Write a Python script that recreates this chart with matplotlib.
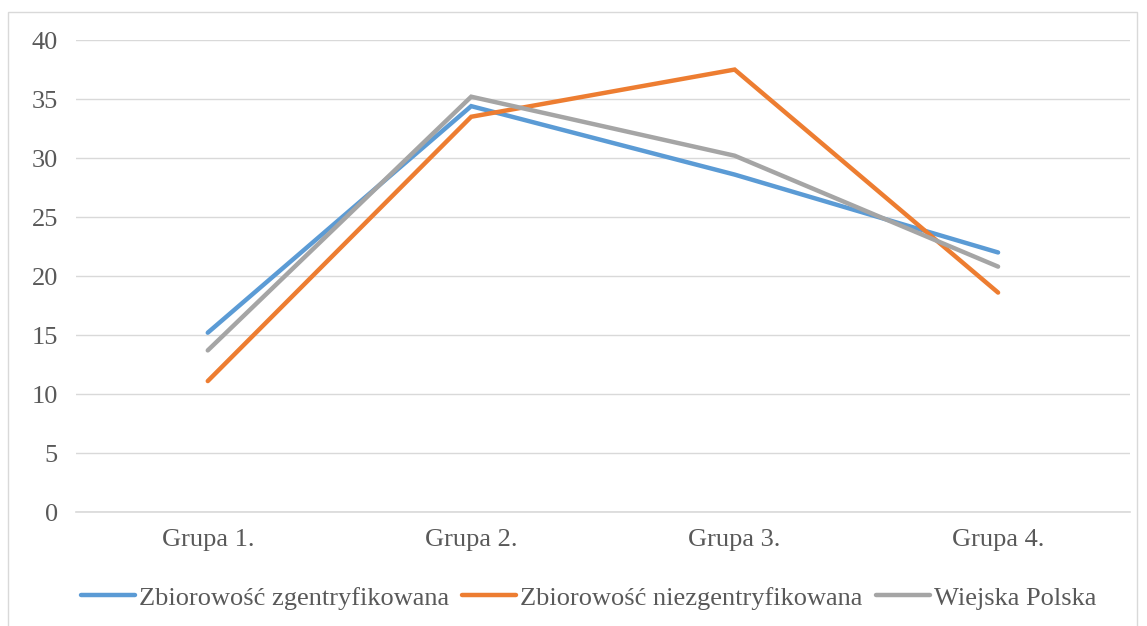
import matplotlib.pyplot as plt
from matplotlib.patches import Rectangle

categories = ["Grupa 1.", "Grupa 2.", "Grupa 3.", "Grupa 4."]
zgentryfikowana = [15.2, 34.4, 28.6, 22.0]
niezgentryfikowana = [11.1, 33.5, 37.5, 18.6]
wiejska_polska = [13.7, 35.2, 30.2, 20.8]

series_labels = ["Zbiorowość zgentryfikowana", "Zbiorowość niezgentryfikowana", "Wiejska Polska"]
colors = ["#5B9BD5", "#ED7D31", "#A5A5A5"]
text_color = "#595959"

plt.rcParams["font.family"] = ["Liberation Serif", "DejaVu Serif"]

fig = plt.figure(figsize=(11.47, 6.26), dpi=100)
ax = fig.add_axes([0.0663, 0.182, 0.9187, 0.754])

x = range(len(categories))
for vals, lab, col in zip([zgentryfikowana, niezgentryfikowana, wiejska_polska], series_labels, colors):
    ax.plot(x, vals, color=col, lw=3.2, label=lab, solid_capstyle="round", solid_joinstyle="miter")

ax.set_xlim(-0.5, len(categories) - 0.5)
ax.set_ylim(0, 40)
ax.set_yticks(range(0, 41, 5))
ax.set_xticks(list(x))
ax.set_xticklabels(categories)
ax.grid(axis="y", color="#D9D9D9", lw=1.0)
ax.axhline(0, color="#D9D9D9", lw=1.2, clip_on=False, zorder=0.5)
ax.set_axisbelow(True)
for s in ax.spines.values():
    s.set_visible(False)
ax.tick_params(axis="both", length=0, labelsize=19, colors=text_color)
ax.tick_params(axis="y", pad=13)
ax.tick_params(axis="x", pad=12)

leg = fig.legend(loc="center", bbox_to_anchor=(0.513, 0.045), ncol=3, frameon=False,
                 fontsize=19, handlelength=2.05, handletextpad=0.15, columnspacing=0.5)
for t in leg.get_texts():
    t.set_color(text_color)

fig.patches.append(Rectangle((8 / 1147, -0.05), 1129 / 1147, 1.05 - 12 / 626, transform=fig.transFigure,
                             fill=False, edgecolor="#D9D9D9", lw=1.0))

fig.savefig("out.png", dpi=100)
